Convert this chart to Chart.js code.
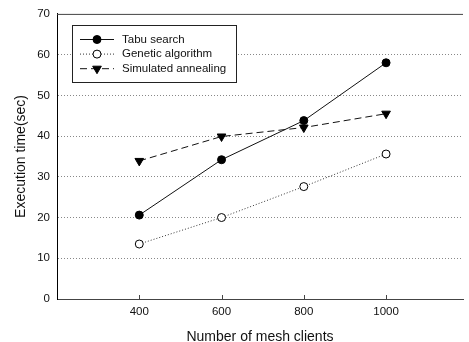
<!DOCTYPE html>
<html>
<head>
<meta charset="utf-8">
<script src="https://cdn.jsdelivr.net/npm/chart.js@4/dist/chart.umd.min.js"></script>
<style>
  html, body { margin: 0; padding: 0; background: #fff; }
  #wrap { width: 469px; height: 342px; }
</style>
</head>
<body>
<div id="wrap"><canvas id="chart" width="469" height="342"></canvas></div>
<script>
// data
var clients = [400, 600, 800, 1000];
var tabuSearch = [20.6, 34.2, 43.8, 58.0];
var geneticAlgorithm = [13.5, 20.0, 27.6, 35.6];
var simulatedAnnealing = [33.9, 39.9, 42.1, 45.5];
var yTicks = [0, 10, 20, 30, 40, 50, 60, 70];

function points(ys) {
    return clients.map(function (x, i) { return { x: x, y: ys[i] }; });
}

var FONT = 'Liberation Sans, Arial, sans-serif';

// box legend in the upper left, plus the frame line on top and inward x ticks
var framePlugin = {
    id: 'frame',
    afterDraw: function (chart) {
        var ctx = chart.ctx;
        var area = chart.chartArea;
        var xs = chart.scales.x;
        ctx.save();
        ctx.strokeStyle = '#444';
        ctx.lineWidth = 1;
        ctx.beginPath();
        ctx.moveTo(area.left, area.top + 0.5);
        ctx.lineTo(area.right, area.top + 0.5);
        clients.forEach(function (c) {
            var px = Math.round(xs.getPixelForValue(c)) + 0.5;
            ctx.moveTo(px, area.bottom);
            ctx.lineTo(px, area.bottom - 4);
        });
        ctx.stroke();

        // legend
        var bx = 72.5, by = 25.5, bw = 164, bh = 57;
        ctx.fillStyle = '#fff';
        ctx.fillRect(bx, by, bw, bh);
        ctx.strokeStyle = '#222';
        ctx.strokeRect(bx, by, bw, bh);
        ctx.font = '11.5px ' + FONT;
        ctx.textBaseline = 'middle';
        chart.data.datasets.forEach(function (ds, i) {
            var y = 39.5 + i * 14.6;
            ctx.strokeStyle = ds.borderColor;
            ctx.lineWidth = ds.borderWidth;
            ctx.setLineDash(ds.borderDash || []);
            ctx.beginPath();
            ctx.moveTo(80, y);
            ctx.lineTo(114, y);
            ctx.stroke();
            ctx.setLineDash([]);
            ctx.fillStyle = ds.pointBackgroundColor;
            ctx.strokeStyle = ds.pointBorderColor;
            ctx.lineWidth = 1;
            Chart.helpers.drawPoint(ctx, {
                pointStyle: ds.pointStyle,
                radius: ds.pointRadius,
                rotation: ds.pointRotation || 0,
                borderWidth: 1
            }, 97, y);
            ctx.fillStyle = '#111';
            ctx.fillText(ds.label, 122, y);
        });
        ctx.restore();
    }
};

var ctx = document.getElementById('chart').getContext('2d');
var chart = new Chart(ctx, {
    type: 'line',
    data: {
        datasets: [{
            label: 'Tabu search',
            data: points(tabuSearch),
            borderColor: '#111',
            borderWidth: 1,
            pointStyle: 'circle',
            pointRadius: 4,
            pointBackgroundColor: '#000',
            pointBorderColor: '#000'
        }, {
            label: 'Genetic algorithm',
            data: points(geneticAlgorithm),
            borderColor: '#333',
            borderWidth: 1,
            borderDash: [1, 2],
            pointStyle: 'circle',
            pointRadius: 4,
            pointBackgroundColor: '#fff',
            pointBorderColor: '#000'
        }, {
            label: 'Simulated annealing',
            data: points(simulatedAnnealing),
            borderColor: '#111',
            borderWidth: 1,
            borderDash: [7, 4],
            pointStyle: 'triangle',
            pointRotation: 180,
            pointRadius: 5,
            pointBackgroundColor: '#000',
            pointBorderColor: '#000'
        }]
    },
    options: {
        responsive: false,
        animation: false,
        layout: { padding: { top: 12, right: 0, left: 0, bottom: 0 } },
        plugins: {
            legend: { display: false },
            tooltip: { enabled: false }
        },
        scales: {
            x: {
                type: 'linear',
                min: 200,
                max: 1187,
                afterBuildTicks: function (s) {
                    s.ticks = clients.map(function (v) { return { value: v }; });
                },
                afterFit: function (s) { s.height = 43; },
                grid: { display: false, drawTicks: false },
                border: { color: '#444', width: 1 },
                ticks: {
                    padding: 6,
                    color: '#111',
                    font: { family: FONT, size: 11.5 },
                    maxRotation: 0,
                    callback: function (v) { return String(v); }
                },
                title: {
                    display: true,
                    text: 'Number of mesh clients',
                    color: '#111',
                    font: { family: FONT, size: 14 },
                    padding: { top: 0, bottom: -4 }
                }
            },
            y: {
                min: 0,
                max: 70,
                afterBuildTicks: function (s) {
                    s.ticks = yTicks.map(function (v) { return { value: v }; });
                },
                afterFit: function (s) { s.width = 57; },
                grid: {
                    drawTicks: false,
                    color: function (c) {
                        var v = c.tick ? c.tick.value : 0;
                        return (v === 0 || v === 70) ? 'rgba(0,0,0,0)' : '#888';
                    }
                },
                border: { color: '#000', width: 1, dash: [1, 2] },
                ticks: {
                    padding: 7,
                    color: '#111',
                    font: { family: FONT, size: 11.5 }
                },
                title: {
                    display: true,
                    text: 'Execution time(sec)',
                    color: '#111',
                    font: { family: FONT, size: 14 },
                    padding: { top: 13, bottom: 0 }
                }
            }
        }
    },
    plugins: [framePlugin]
});
</script>
</body>
</html>
